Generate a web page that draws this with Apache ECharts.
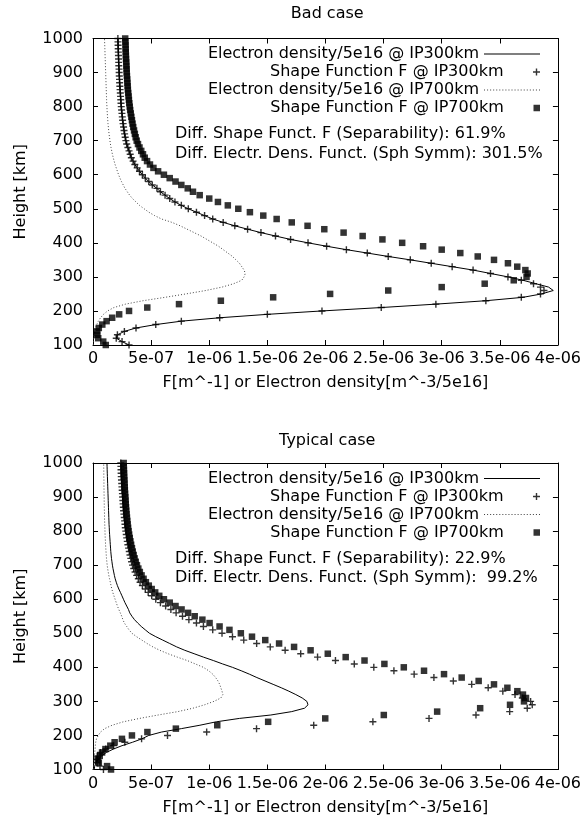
<!DOCTYPE html>
<html><head><meta charset="utf-8">
<script src="https://cdn.jsdelivr.net/npm/echarts@6/dist/echarts.min.js"></script>
<style>html,body{margin:0;padding:0;background:#fff}#c{width:584px;height:828px}</style>
</head><body><div id="c"></div>
<script>
// Heights [km] at which every profile is sampled
const HEIGHTS = [100,110,120,130,140,150,160,170,180,190,200,210,220,230,240,250,260,270,280,290,300,310,320,330,340,350,360,370,380,390,400,410,420,430,440,450,460,470,480,490,500,510,520,530,540,550,560,570,580,590,600,610,620,630,640,650,660,670,680,690,700,710,720,730,740,750,760,770,780,790,800,810,820,830,840,850,860,870,880,890,900,910,920,930,940,950,960,970,980,990,1000];
const X_TICK_LABELS = ['0','5e-07','1e-06','1.5e-06','2e-06','2.5e-06','3e-06','3.5e-06','4e-06'];
const SERIES_NAMES = ['Electron density/5e16 @ IP300km','Shape Function F @ IP300km','Electron density/5e16 @ IP700km','Shape Function F @ IP700km'];
const PANEL_TITLES = ['Bad case','Typical case'];
const SEPARABILITY = ['61.9%','22.9%'];
const SPH_SYMM = ['301.5%',' 99.2%'];

// values in units of 1e-6
const BAD_NE_300 = [0.31,0.25,0.20,0.21,0.27,0.37,0.54,0.76,1.09,1.50,1.97,2.48,2.95,3.38,3.70,3.86,3.96,3.92,3.81,3.70,3.57,3.42,3.27,3.09,2.91,2.73,2.54,2.36,2.18,2.01,1.85,1.70,1.57,1.445,1.33,1.22,1.12,1.03,0.96,0.89,0.82,0.76,0.705,0.66,0.62,0.58,0.55,0.51,0.48,0.45,0.425,0.40,0.38,0.36,0.345,0.33,0.32,0.31,0.30,0.29,0.283,0.277,0.272,0.267,0.263,0.259,0.255,0.252,0.249,0.246,0.243,0.241,0.239,0.237,0.235,0.233,0.231,0.229,0.228,0.226,0.225,0.224,0.222,0.221,0.22,0.219,0.218,0.217,0.216,0.215,0.214];
const BAD_F_300 = [0.31,0.25,0.20,0.21,0.27,0.37,0.54,0.76,1.09,1.50,1.97,2.48,2.95,3.38,3.685,3.85,3.88,3.85,3.79,3.685,3.57,3.42,3.27,3.09,2.91,2.73,2.54,2.36,2.18,2.01,1.85,1.70,1.57,1.445,1.33,1.22,1.12,1.03,0.96,0.89,0.82,0.76,0.705,0.66,0.62,0.58,0.55,0.51,0.48,0.45,0.425,0.40,0.38,0.36,0.345,0.33,0.32,0.31,0.30,0.29,0.283,0.277,0.272,0.267,0.263,0.259,0.255,0.252,0.249,0.246,0.243,0.241,0.239,0.237,0.235,0.233,0.231,0.229,0.228,0.226,0.225,0.224,0.222,0.221,0.22,0.219,0.218,0.217,0.216,0.215,0.214];
const BAD_NE_700 = [0.003,0.005,0.008,0.012,0.016,0.022,0.032,0.046,0.065,0.09,0.125,0.18,0.28,0.43,0.62,0.80,0.97,1.11,1.21,1.28,1.30,1.31,1.30,1.28,1.26,1.23,1.20,1.16,1.12,1.08,1.03,0.98,0.93,0.87,0.81,0.75,0.68,0.59,0.53,0.48,0.44,0.40,0.37,0.34,0.315,0.295,0.275,0.26,0.245,0.232,0.22,0.21,0.20,0.19,0.182,0.174,0.167,0.161,0.155,0.15,0.146,0.142,0.138,0.135,0.132,0.129,0.127,0.125,0.123,0.121,0.12,0.118,0.117,0.116,0.115,0.114,0.113,0.112,0.111,0.11,0.109,0.108,0.107,0.106,0.105,0.104,0.103,0.102,0.101,0.10,0.099];
const BAD_F_700 = [0.11,0.088,0.045,0.036,0.036,0.05,0.08,0.117,0.165,0.225,0.31,0.467,0.74,1.10,1.55,2.04,2.54,3.00,3.37,3.62,3.73,3.74,3.72,3.65,3.57,3.45,3.31,3.16,3.00,2.84,2.66,2.49,2.32,2.156,1.99,1.846,1.71,1.58,1.465,1.35,1.25,1.16,1.075,1.00,0.918,0.86,0.815,0.76,0.71,0.66,0.61,0.56,0.52,0.49,0.465,0.445,0.43,0.415,0.40,0.387,0.376,0.367,0.36,0.353,0.346,0.34,0.335,0.33,0.325,0.32,0.316,0.312,0.309,0.306,0.303,0.30,0.298,0.296,0.294,0.292,0.29,0.289,0.287,0.286,0.284,0.283,0.282,0.281,0.28,0.279,0.277];

const TYP_NE_300 = [0.01,0.015,0.025,0.045,0.075,0.115,0.175,0.25,0.34,0.42,0.48,0.59,0.76,0.92,1.06,1.26,1.53,1.71,1.82,1.85,1.84,1.80,1.745,1.685,1.62,1.55,1.48,1.41,1.345,1.275,1.20,1.115,1.035,0.95,0.87,0.79,0.72,0.66,0.60,0.54,0.486,0.45,0.415,0.385,0.357,0.335,0.316,0.305,0.29,0.275,0.262,0.249,0.236,0.222,0.21,0.20,0.191,0.184,0.178,0.172,0.167,0.163,0.159,0.156,0.153,0.151,0.149,0.147,0.145,0.143,0.141,0.14,0.138,0.137,0.136,0.135,0.134,0.133,0.132,0.131,0.13,0.129,0.128,0.127,0.126,0.125,0.124,0.123,0.122,0.121,0.12];
const TYP_F_300 = [0.09,0.06,0.035,0.03,0.04,0.065,0.11,0.178,0.274,0.418,0.641,0.978,1.407,1.899,2.408,2.891,3.295,3.585,3.736,3.779,3.765,3.694,3.631,3.526,3.40,3.258,3.10,2.933,2.763,2.589,2.416,2.248,2.086,1.932,1.787,1.653,1.525,1.408,1.297,1.20,1.11,1.03,0.95,0.89,0.825,0.77,0.715,0.67,0.625,0.58,0.54,0.505,0.475,0.45,0.425,0.405,0.39,0.375,0.362,0.35,0.34,0.332,0.325,0.318,0.312,0.306,0.30,0.295,0.29,0.286,0.282,0.278,0.275,0.272,0.269,0.266,0.263,0.261,0.259,0.257,0.255,0.253,0.251,0.249,0.247,0.245,0.243,0.242,0.241,0.24,0.239];
const TYP_NE_700 = [0.003,0.005,0.007,0.009,0.012,0.015,0.018,0.02,0.023,0.03,0.045,0.065,0.10,0.165,0.26,0.40,0.56,0.73,0.86,0.96,1.04,1.10,1.117,1.11,1.10,1.09,1.075,1.055,1.03,0.995,0.95,0.88,0.81,0.725,0.645,0.575,0.515,0.465,0.42,0.375,0.335,0.31,0.29,0.27,0.257,0.247,0.235,0.222,0.21,0.20,0.19,0.18,0.17,0.162,0.155,0.149,0.142,0.136,0.131,0.126,0.122,0.119,0.116,0.114,0.112,0.11,0.108,0.107,0.105,0.104,0.103,0.102,0.101,0.1,0.099,0.099,0.098,0.097,0.097,0.096,0.096,0.095,0.095,0.094,0.094,0.094,0.093,0.093,0.093,0.092,0.092];
const TYP_F_700 = [0.155,0.121,0.05,0.041,0.058,0.078,0.107,0.149,0.186,0.249,0.335,0.468,0.713,1.069,1.507,1.998,2.502,2.961,3.331,3.588,3.708,3.725,3.699,3.651,3.565,3.45,3.318,3.172,3.02,2.848,2.674,2.507,2.336,2.174,2.02,1.872,1.73,1.601,1.482,1.368,1.272,1.174,1.089,1.003,0.941,0.875,0.818,0.762,0.71,0.66,0.61,0.57,0.535,0.505,0.48,0.455,0.435,0.418,0.403,0.39,0.378,0.368,0.358,0.35,0.342,0.335,0.328,0.322,0.316,0.311,0.306,0.302,0.298,0.295,0.292,0.289,0.286,0.284,0.282,0.28,0.278,0.276,0.274,0.273,0.271,0.27,0.268,0.267,0.266,0.265,0.264];

const FONT = '"DejaVu Sans", sans-serif';
const PLUS = 'path://M4,0H6V4H10V6H6V10H4V6H0V4H4Z';
const SQUARE = 'path://M0,0H6V6H0Z';
const SOLID_ICON = 'path://M0,0H56V1H0Z';
let dots = '';
for (let x = 0; x < 56; x += 3) dots += 'M' + x + ',0h1v1h-1z';
const DOTTED_ICON = 'path://' + dots;
const ICONS = [SOLID_ICON, PLUS, DOTTED_ICON, SQUARE];
const ICON_H = [8, 7, 8, 6.5];

const panels = [
  {top: 38.5, titleOffset: 33, vals: [BAD_NE_300, BAD_F_300, BAD_NE_700, BAD_F_700]},
  {top: 463, titleOffset: 30, vals: [TYP_NE_300, TYP_F_300, TYP_NE_700, TYP_F_700]}
];
const GL = 93, GW = 468.5, GH = 306.5;
const txt = {fontFamily: FONT, fontSize: 16, color: '#000'};
const toPairs = arr => arr.map((v, i) => [v, HEIGHTS[i]]);

const option = {animation: false, backgroundColor: '#fff', grid: [], xAxis: [], yAxis: [], series: [], legend: [], title: [], graphic: []};

panels.forEach((p, k) => {
  option.grid.push({left: GL, top: p.top, width: GW, height: GH, show: false});
  const tick = {show: true, inside: true, length: 5, lineStyle: {color: '#000', width: 1}};
  const line = {show: true, onZero: false, lineStyle: {color: '#000', width: 1}};
  option.xAxis.push({gridIndex: k, type: 'value', min: 0, max: 4, interval: 0.5, position: 'bottom',
    axisLine: line, axisTick: tick, splitLine: {show: false},
    axisLabel: Object.assign({margin: 6, formatter: v => X_TICK_LABELS[Math.round(v / 0.5)]}, txt),
    name: 'F[m^-1] or Electron density[m^-3/5e16]', nameLocation: 'middle', nameGap: 30, nameTextStyle: txt});
  option.xAxis.push({gridIndex: k, type: 'value', min: 0, max: 4, interval: 0.5, position: 'top',
    axisLine: line, axisTick: tick, splitLine: {show: false}, axisLabel: {show: false}});
  option.yAxis.push({gridIndex: k, type: 'value', min: 100, max: 1000, interval: 100, position: 'left',
    axisLine: line, axisTick: tick, splitLine: {show: false},
    axisLabel: Object.assign({margin: 10, formatter: v => String(v)}, txt),
    name: 'Height [km]', nameLocation: 'middle', nameRotate: 90, nameGap: 64, nameTextStyle: txt});
  option.yAxis.push({gridIndex: k, type: 'value', min: 100, max: 1000, interval: 100, position: 'right',
    axisLine: line, axisTick: tick, splitLine: {show: false}, axisLabel: {show: false}});
  const xi = 2 * k, yi = 2 * k;
  option.series.push({name: SERIES_NAMES[0], type: 'line', xAxisIndex: xi, yAxisIndex: yi, data: toPairs(p.vals[0]),
    symbol: 'none', lineStyle: {color: '#000', width: 1}, itemStyle: {color: '#000'}, z: 3});
  option.series.push({name: SERIES_NAMES[1], type: 'scatter', xAxisIndex: xi, yAxisIndex: yi, data: toPairs(p.vals[1]),
    symbol: PLUS, symbolSize: 7, itemStyle: {color: '#000'}, z: 4});
  option.series.push({name: SERIES_NAMES[2], type: 'line', xAxisIndex: xi, yAxisIndex: yi, data: toPairs(p.vals[2]),
    symbol: 'none', lineStyle: {color: '#444', width: 1, type: [1, 2]}, itemStyle: {color: '#444'}, z: 3});
  option.series.push({name: SERIES_NAMES[3], type: 'scatter', xAxisIndex: xi, yAxisIndex: yi, data: toPairs(p.vals[3]),
    symbol: 'rect', symbolSize: 6.5, itemStyle: {color: '#000'}, z: 4});
  SERIES_NAMES.forEach((n, j) => {
    option.legend.push({data: [{name: n, icon: ICONS[j]}], right: 44, top: p.top + 15.5 + 18 * j - 8, align: 'right',
      orient: 'horizontal', padding: 0, itemWidth: 56, itemHeight: ICON_H[j], selectedMode: false,
      itemStyle: {borderWidth: 0}, lineStyle: {width: 0}, textStyle: txt});
  });
  option.title.push({text: PANEL_TITLES[k], left: GL + GW / 2, top: p.top - p.titleOffset, textAlign: 'center', padding: 0,
    textStyle: Object.assign({fontWeight: 'normal'}, txt)});
  option.graphic.push({type: 'text', left: 175, top: p.top + 96.5 - 9,
    style: {text: 'Diff. Shape Funct. F (Separability): ' + SEPARABILITY[k], font: '16px ' + FONT, fill: '#000'}});
  option.graphic.push({type: 'text', left: 175, top: p.top + 116 - 9,
    style: {text: 'Diff. Electr. Dens. Funct. (Sph Symm): ' + SPH_SYMM[k], font: '16px ' + FONT, fill: '#000'}});
});

const chart = echarts.init(document.getElementById('c'), null, {renderer: 'canvas'});
chart.setOption(option);
</script>
</body></html>
